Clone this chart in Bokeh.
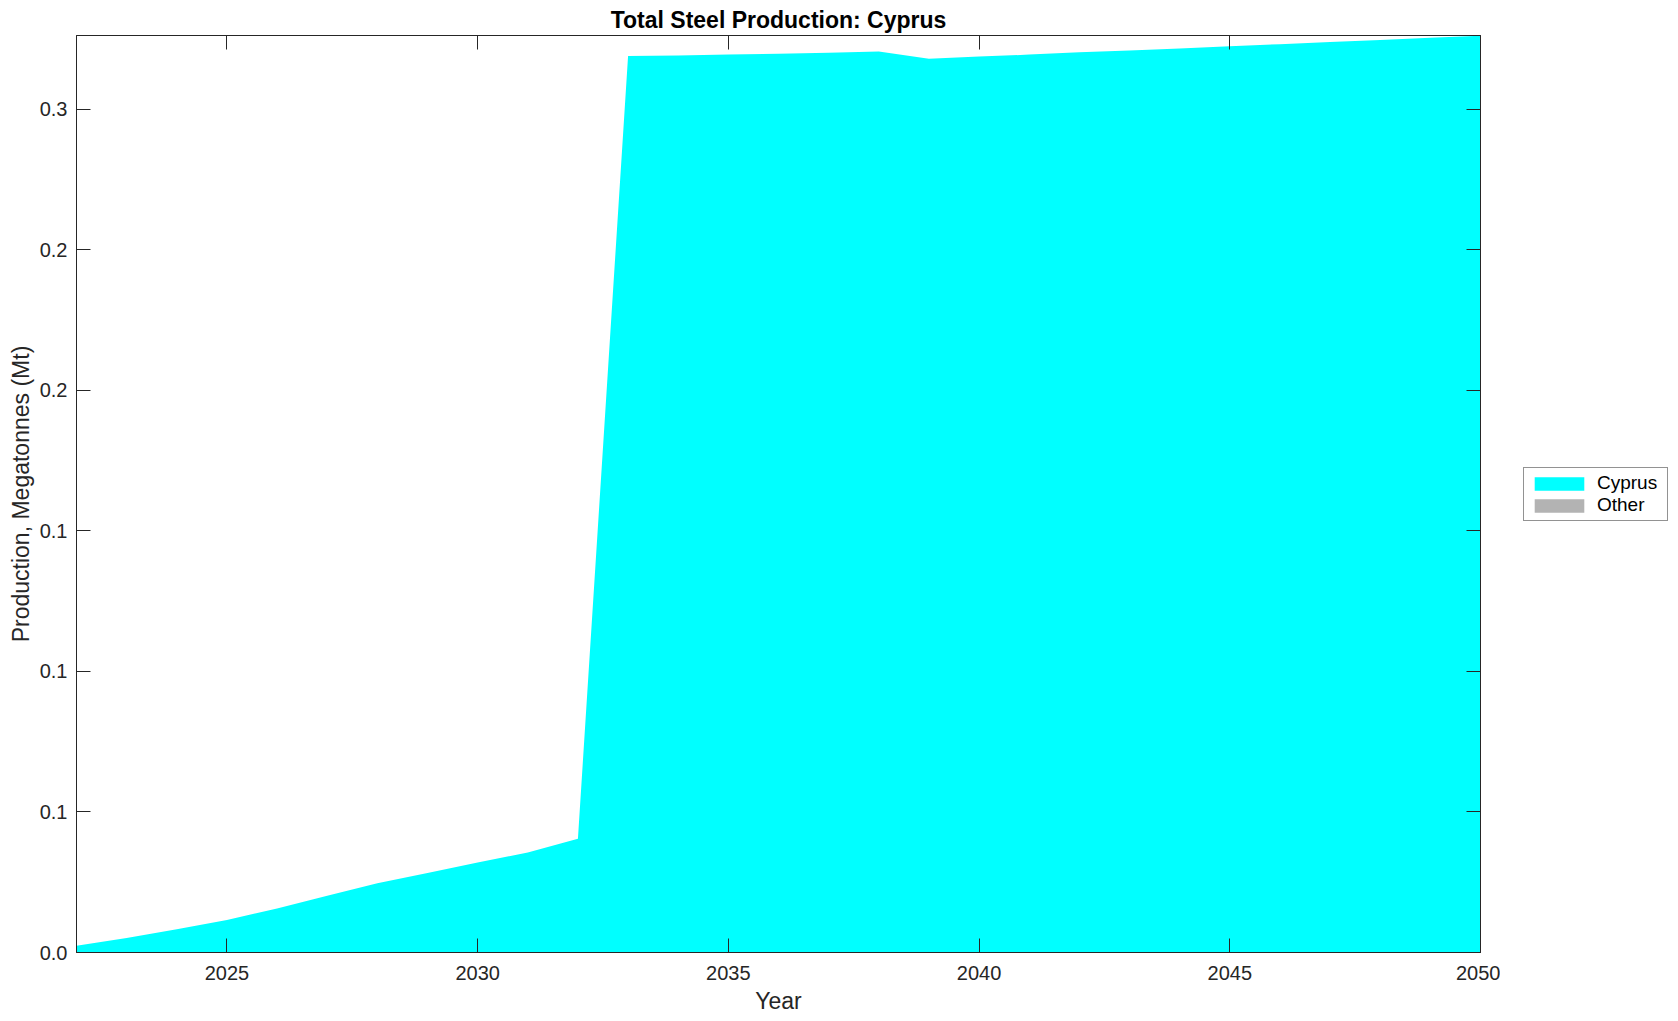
from bokeh.plotting import figure
from bokeh.layouts import row
from bokeh.models import (ColumnDataSource, Range1d, LinearAxis, FixedTicker,
                          CustomJSTickFormatter)
from bokeh.embed import file_html
from bokeh.resources import INLINE

# ---- data ----
years = list(range(2022, 2051))
cyprus = [0.0024, 0.0052, 0.0083, 0.0116, 0.0157, 0.0202, 0.0246, 0.0283,
          0.0320, 0.0356, 0.0405, 0.3190, 0.3192, 0.3195, 0.3198, 0.3202,
          0.3206, 0.3180, 0.3188, 0.3195, 0.3203, 0.3210, 0.3217, 0.3225,
          0.3232, 0.3240, 0.3247, 0.3255, 0.3262]
other = [0.0] * len(years)
series_names = ["Cyprus", "Other"]
series_colors = ["#00FFFF", "#B3B3B3"]
x_ticks = [2025, 2030, 2035, 2040, 2045, 2050]
y_ticks = [0.0, 0.05, 0.10, 0.15, 0.20, 0.25, 0.30]
y_tick_labels = ["0.0", "0.1", "0.1", "0.1", "0.2", "0.2", "0.3"]

FONT = "Liberation Sans"
AXC = "#262626"
H = 1020

source = ColumnDataSource(dict(year=years, Cyprus=cyprus, Other=other))

p = figure(width=1500, height=H, output_backend="svg", toolbar_location=None,
           x_range=Range1d(2022, 2050), y_range=Range1d(0, 0.3263),
           min_border_left=76, min_border_right=20, min_border_top=35,
           min_border_bottom=68, title="Total Steel Production: Cyprus")

p.varea_stack(series_names, x="year", color=series_colors, source=source)

p.grid.visible = False
p.background_fill_color = "white"
p.border_fill_color = "white"
p.outline_line_color = AXC
p.outline_line_width = 1

p.title.text_font = FONT
p.title.text_font_size = "23px"
p.title.text_font_style = "bold"
p.title.text_color = "black"
p.title.align = "center"
p.title.standoff = 5

for ax in (p.xaxis[0], p.yaxis[0]):
    ax.major_tick_in = 14
    ax.major_tick_out = 0
    ax.minor_tick_line_color = None
    ax.axis_line_color = AXC
    ax.major_tick_line_color = AXC
    ax.major_label_text_font = FONT
    ax.major_label_text_font_size = "20px"
    ax.major_label_text_color = AXC
    ax.axis_label_text_font = FONT
    ax.axis_label_text_font_size = "23px"
    ax.axis_label_text_font_style = "normal"
    ax.axis_label_text_color = AXC

p.xaxis[0].ticker = FixedTicker(ticks=x_ticks)
p.xaxis[0].axis_label = "Year"
p.xaxis[0].major_label_standoff = 13
p.xaxis[0].axis_label_standoff = 5

p.yaxis[0].ticker = FixedTicker(ticks=y_ticks)
p.yaxis[0].formatter = CustomJSTickFormatter(args=dict(labels=y_tick_labels),
                                             code="return labels[index];")
p.yaxis[0].axis_label = "Production, Megatonnes (Mt)"
p.yaxis[0].major_label_standoff = 9
p.yaxis[0].axis_label_standoff = 3

# box ticks on top and right (no labels)
top = LinearAxis(ticker=FixedTicker(ticks=x_ticks))
right = LinearAxis(ticker=FixedTicker(ticks=y_ticks))
for ax in (top, right):
    ax.major_tick_in = 14
    ax.major_tick_out = 0
    ax.minor_tick_line_color = None
    ax.axis_line_color = AXC
    ax.major_tick_line_color = AXC
    ax.major_label_text_font_size = "1px"
    ax.major_label_text_color = None
    ax.major_label_standoff = 0
p.add_layout(top, "above")
p.add_layout(right, "right")

# legend panel to the right of the axes
pl = figure(width=172, height=H, output_backend="svg", toolbar_location=None,
            x_axis_location=None, y_axis_location=None,
            x_range=Range1d(0, 1), y_range=Range1d(0, 1), min_border=0)
pl.outline_line_color = None
pl.grid.visible = False
pl.varea_stack(series_names, x="year", color=series_colors,
               legend_label=series_names, source=source)

lg = pl.legend[0]
lg.location = (23, 431)
lg.margin = 0
lg.padding = 4
lg.spacing = 0
lg.glyph_width = 62
lg.glyph_height = 17
lg.label_height = 17
lg.label_width = 66
lg.label_standoff = 7
lg.label_text_font = FONT
lg.label_text_font_size = "19px"
lg.label_text_color = "black"
lg.border_line_color = AXC
lg.border_line_width = 1
lg.background_fill_color = "white"
lg.background_fill_alpha = 1.0

layout = row(p, pl)
open("out.html", "w").write(file_html(layout, INLINE))
